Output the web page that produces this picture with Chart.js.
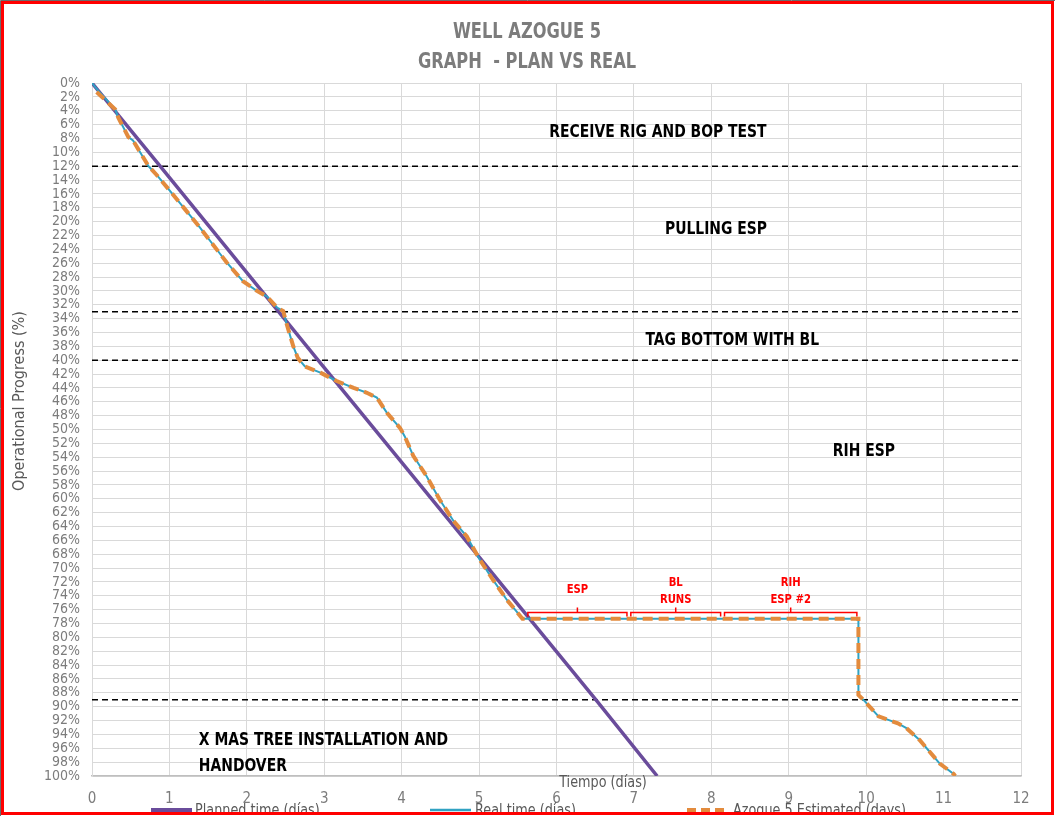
<!DOCTYPE html>
<html><head><meta charset="utf-8">
<script src="https://cdn.jsdelivr.net/npm/chart.js@4.4.1/dist/chart.umd.min.js"></script>
<style>html,body{margin:0;padding:0;background:#fff;}canvas{display:block;}</style>
</head><body>
<canvas id="c" width="1056" height="816"></canvas>
<script>
// ---- data ----
const plannedDays     = [0, 0.88, 2.92, 6.51, 7.30];
const plannedProgress = [0, 12, 40, 89, 100];

const realDays = [0, 0.08, 0.30, 0.34, 0.47, 0.53, 0.73, 0.83, 1.01, 1.39, 1.74, 1.95, 2.13, 2.26, 2.39, 2.47,
  2.51, 2.60, 2.66, 2.75, 2.95, 3.16, 3.38, 3.55, 3.68, 3.81, 3.98, 4.04, 4.15, 4.32, 4.49, 4.67, 4.84,
  5.01, 5.18, 5.36, 5.48, 5.56, 9.90, 9.90, 9.98, 10.16, 10.26, 10.41, 10.52, 10.69, 10.82, 10.95, 11.13, 11.15];
const realProgress = [0, 1.1, 3.8, 5.0, 7.8, 8.3, 12, 13.2, 15.6, 20.8, 25.9, 28.6, 30, 30.8, 32.4, 32.9,
  34.6, 38, 39.7, 40.9, 41.8, 43, 44, 44.7, 45.4, 47.6, 49.8, 51, 53.8, 56.7, 60.1, 63.2, 65.4,
  68.8, 71.7, 74.6, 76.2, 77.3, 77.3, 88.3, 89.2, 91.4, 91.8, 92.4, 93.1, 94.8, 96.5, 98.2, 99.7, 100];

const estDays = [0.06, 0.30, 0.34, 0.47, 0.53, 0.73, 0.83, 1.01, 1.39, 1.74, 1.95, 2.13, 2.26, 2.39, 2.47,
  2.51, 2.60, 2.66, 2.75, 2.95, 3.16, 3.38, 3.55, 3.68, 3.81, 3.98, 4.04, 4.15, 4.32, 4.49, 4.67, 4.84,
  5.01, 5.18, 5.36, 5.48, 5.56, 9.90, 9.90, 9.98, 10.16, 10.26, 10.41, 10.52, 10.69, 10.82, 10.95, 11.13, 11.15];
const estProgress = [1.3, 3.8, 5.0, 7.8, 8.3, 12, 13.2, 15.6, 20.8, 25.9, 28.6, 30, 30.8, 32.4, 32.9,
  34.6, 38, 39.7, 40.9, 41.8, 43, 44, 44.7, 45.4, 47.6, 49.8, 51, 53.8, 56.7, 60.1, 63.2, 65.4,
  68.8, 71.7, 74.6, 76.2, 77.3, 77.3, 88.3, 89.2, 91.4, 91.8, 92.4, 93.1, 94.8, 96.5, 98.2, 99.7, 100];

const phaseLines = [12, 33, 40, 89];

const xRange = [0, 12];
const xStep = 1;
const yRange = [0, 100];
const yStep = 2;

const seriesNames = ['Planned time (días)', 'Real time (días)', 'Azogue 5 Estimated (days)'];
const titleLines = ['WELL AZOGUE 5', 'GRAPH  - PLAN VS REAL'];
const xTitle = 'Tiempo (días)';
const yTitle = 'Operational Progress (%)';

const phaseTexts = ['RECEIVE RIG AND BOP TEST', 'PULLING ESP', 'TAG BOTTOM WITH BL', 'RIH ESP', 'X MAS TREE INSTALLATION AND', 'HANDOVER'];
const phaseTextDays = [7.31, 8.06, 8.27, 9.97, 1.38, 1.38];
const phaseTextProgress = [7.1, 21.1, 37.1, 53.2, 94.9, 98.6];
const phaseTextAlign = ['center', 'center', 'center', 'center', 'left', 'left'];

const bracketStart = [5.63, 6.96, 8.17];
const bracketEnd   = [6.91, 8.12, 9.88];
const bracketLabels = [['ESP'], ['BL', 'RUNS'], ['RIH', 'ESP #2']];
const bracketLabelProgress = [[73.1], [72.1, 74.6], [72.1, 74.6]];
const bracketTop = 76.4, bracketFoot = 77.0, bracketTip = 75.7;

// ---- styles ----
const FONT = "'DejaVu Sans Condensed', 'Liberation Sans', sans-serif";
const PURPLE = '#6a4c9b';
const TEAL = '#31a2c2';
const ORANGE = '#e38b3d';
const GRAY = '#7c7c7c';

const pts = (xs, ys) => xs.map((x, i) => ({x, y: ys[i]}));

const datasets = [
  {label: seriesNames[2], data: pts(estDays, estProgress), borderColor: ORANGE, borderWidth: 4,
   borderDash: [10, 6], pointRadius: 0, order: 0, tension: 0},
  {label: seriesNames[1], data: pts(realDays, realProgress), borderColor: TEAL, borderWidth: 2,
   pointRadius: 0, order: 1, tension: 0},
  {label: seriesNames[0], data: pts(plannedDays, plannedProgress), borderColor: PURPLE, borderWidth: 3.5,
   pointRadius: 0, order: 2, tension: 0},
];
phaseLines.forEach(v => datasets.push({label: 'phase', data: [{x: xRange[0], y: v}, {x: xRange[1], y: v}],
  borderColor: '#000', borderWidth: 1.5, borderDash: [6, 4], pointRadius: 0, order: 3}));

function txt(c, t, x, y, align, sx) {
  c.save(); c.translate(x, y); c.scale(sx, 1); c.textAlign = align; c.fillText(t, 0, 0); c.restore();
}

const decor = {
  id: 'decor',
  beforeDraw(chart) {
    const c = chart.ctx;
    c.save(); c.fillStyle = '#fff'; c.fillRect(0, 0, chart.width, chart.height); c.restore();
  },
  afterDraw(chart) {
    const c = chart.ctx, xs = chart.scales.x, ys = chart.scales.y;
    c.save();
    c.textBaseline = 'middle';
    // title
    c.fillStyle = GRAY;
    c.font = "bold 21px " + FONT;
    txt(c, titleLines[0], 527, 33, 'center', 0.86);
    txt(c, titleLines[1], 527, 63, 'center', 0.86);
    // axis titles
    c.font = "15px " + FONT; c.fillStyle = '#595959';
    txt(c, xTitle, 603, 783, 'center', 0.95);
    c.save(); c.translate(20, 401); c.rotate(-Math.PI / 2); c.font = "16px " + FONT; txt(c, yTitle, 0, 0, 'center', 1); c.restore();
    // phase texts
    c.fillStyle = '#000'; c.font = "bold 17px " + FONT;
    phaseTexts.forEach((t, i) => {
      txt(c, t, xs.getPixelForValue(phaseTextDays[i]), ys.getPixelForValue(phaseTextProgress[i]), phaseTextAlign[i], 0.91);
    });
    // brackets
    c.strokeStyle = '#ff0000'; c.lineWidth = 1.5; c.fillStyle = '#ff0000';
    c.font = "bold 13px " + FONT;
    bracketStart.forEach((s, i) => {
      const x0 = xs.getPixelForValue(s), x1 = xs.getPixelForValue(bracketEnd[i]);
      const xm = (x0 + x1) / 2;
      const yt = ys.getPixelForValue(bracketTop), yf = ys.getPixelForValue(bracketFoot), yp = ys.getPixelForValue(bracketTip);
      c.beginPath();
      c.moveTo(x0, yf); c.lineTo(x0, yt); c.lineTo(x1, yt); c.lineTo(x1, yf);
      c.moveTo(xm, yt); c.lineTo(xm, yp);
      c.stroke();
      bracketLabels[i].forEach((t, j) => txt(c, t, xm, ys.getPixelForValue(bracketLabelProgress[i][j]), 'center', 0.86));
    });
    // legend
    c.font = "15px " + FONT; c.fillStyle = '#595959';
    const ly = 810;
    c.lineWidth = 4; c.strokeStyle = PURPLE; c.setLineDash([]);
    c.beginPath(); c.moveTo(151, ly); c.lineTo(192, ly); c.stroke();
    txt(c, seriesNames[0], 195, ly + 1, 'left', 0.95);
    c.lineWidth = 2.5; c.strokeStyle = TEAL;
    c.beginPath(); c.moveTo(430, ly); c.lineTo(471, ly); c.stroke();
    txt(c, seriesNames[1], 475, ly + 1, 'left', 0.95);
    c.lineWidth = 4; c.strokeStyle = ORANGE; c.setLineDash([9, 5]);
    c.beginPath(); c.moveTo(687, ly); c.lineTo(728, ly); c.stroke();
    c.setLineDash([]);
    txt(c, seriesNames[2], 733, ly + 1, 'left', 0.95);
    // frame
    c.fillStyle = '#fff'; c.fillRect(0, 812, 1056, 4); c.fillRect(1054, 0, 2, 816);
    c.strokeStyle = '#ff0000'; c.lineWidth = 3;
    c.strokeRect(2.5, 2.5, 1050, 811);
    c.strokeStyle = '#6b6b6b'; c.lineWidth = 1;
    c.beginPath(); c.moveTo(0.5, 816); c.lineTo(0.5, 0.5); c.lineTo(1055, 0.5); c.stroke();
    c.restore();
  }
};

new Chart(document.getElementById('c'), {
  type: 'line',
  data: {datasets},
  options: {
    responsive: false, animation: false, devicePixelRatio: 1,
    layout: {padding: {left: 0, top: 83, right: 35, bottom: 0}},
    plugins: {legend: {display: false}, title: {display: false}, tooltip: {enabled: false}},
    scales: {
      x: {type: 'linear', min: xRange[0], max: xRange[1],
        ticks: {stepSize: xStep, color: GRAY, font: {family: FONT, size: 15}, padding: 14, maxRotation: 0},
        grid: {color: '#d9d9d9', lineWidth: 1, drawTicks: false},
        border: {color: '#bfbfbf', width: 1.5},
        afterFit: s => { s.height = 40; }},
      y: {type: 'linear', min: yRange[0], max: yRange[1], reverse: true,
        ticks: {stepSize: yStep, autoSkip: false, color: GRAY, font: {family: FONT, size: 14}, padding: 12,
          callback: v => v + '%'},
        grid: {color: '#d9d9d9', lineWidth: 1, drawTicks: false},
        border: {color: '#d9d9d9', width: 1},
        afterFit: s => { s.width = 92; }}
    }
  },
  plugins: [decor]
});
</script>
</body></html>
